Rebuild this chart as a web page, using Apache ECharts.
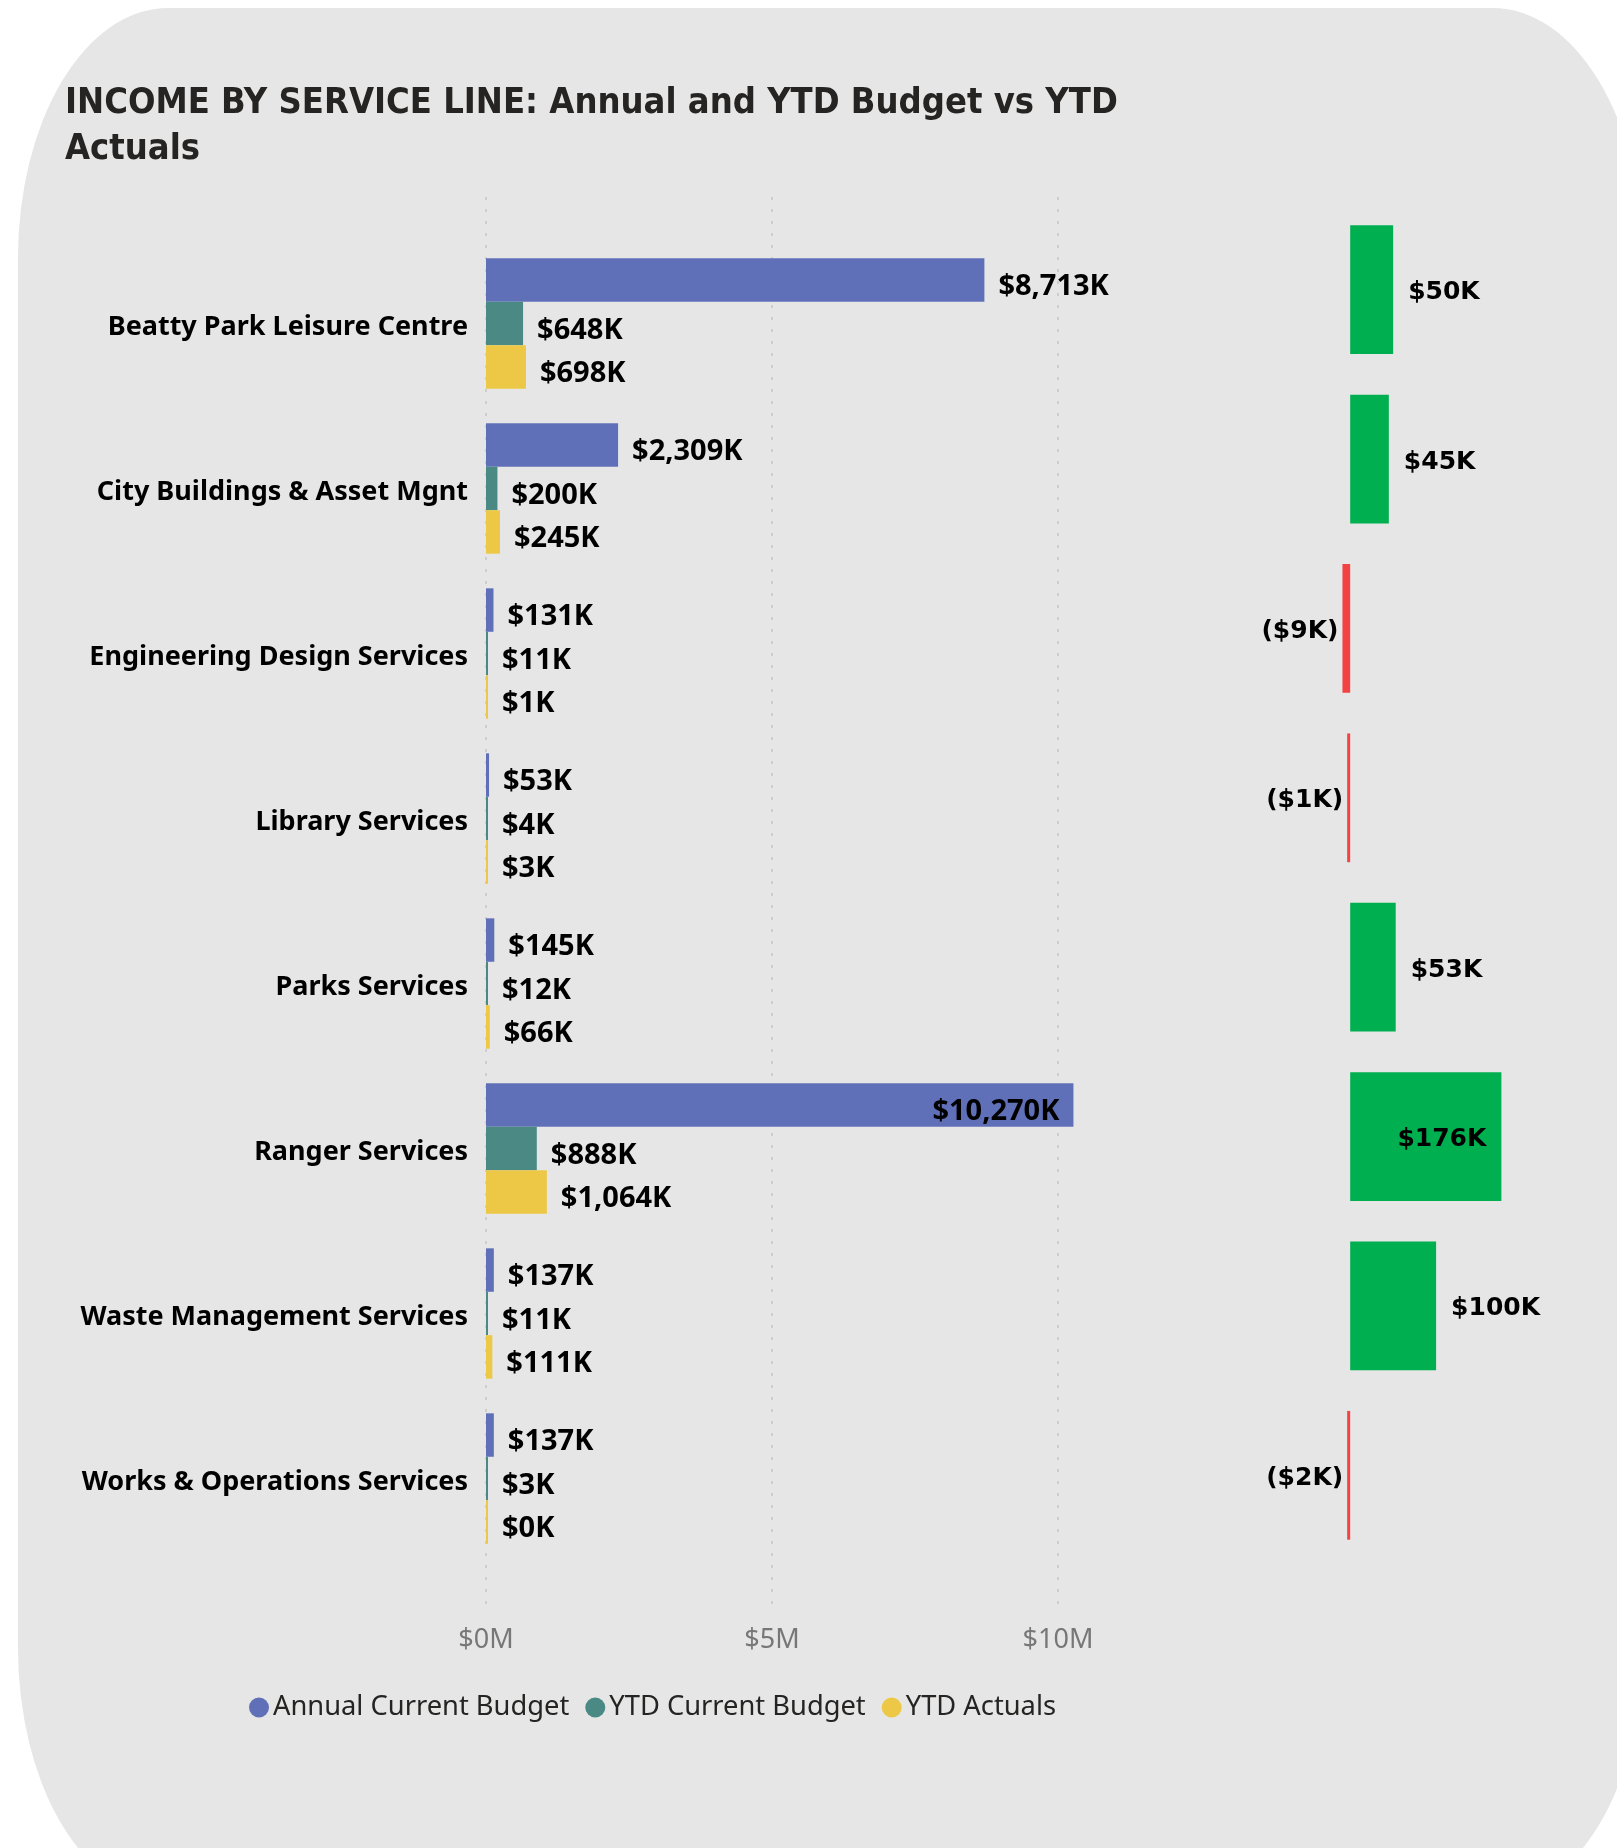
<!DOCTYPE html>
<html>
<head>
<meta charset="utf-8">
<script src="https://cdn.jsdelivr.net/npm/echarts@6/dist/echarts.min.js"></script>
<style>
    html, body { margin: 0; padding: 0; background: #fff; }
    .card {
        position: absolute;
        left: 18px;
        top: 8px;
        width: 1625px;
        height: 1890px;
        background: #e6e6e6;
        border-radius: 150px / 250px;
    }
    #main { position: absolute; left: 0; top: 0; width: 1617px; height: 1848px; }
</style>
</head>
<body>
<div class="card"></div>
<div id="main"></div>
<script>
    // values in $K
    const categories = [
        'Beatty Park Leisure Centre',
        'City Buildings & Asset Mgnt',
        'Engineering Design Services',
        'Library Services',
        'Parks Services',
        'Ranger Services',
        'Waste Management Services',
        'Works & Operations Services'
    ];
    const annualBudget = [8713, 2309, 131, 53, 145, 10270, 137, 137];
    const ytdBudget = [648, 200, 11, 4, 12, 888, 11, 3];
    const ytdActuals = [698, 245, 1, 3, 66, 1064, 111, 0];
    const variance = [50, 45, -9, -1, 53, 176, 100, -2];
    const xTicks = [0, 5000, 10000];

    const mainMax = 10000;
    const varMin = -20, varMax = 200;

    const fmtK = v => '$' + Math.round(v).toLocaleString('en-US') + 'K';
    const fmtVar = v => v < 0 ? '(' + fmtK(-v) + ')' : fmtK(v);

    const labelFont = {
        fontFamily: 'Noto Sans',
        fontWeight: 'bold',
        fontSize: 29,
        color: '#000'
    };

    // labels that would run past the plot go inside the bar
    function mainData(arr) {
        return arr.map(v => v > mainMax ? {
            value: v,
            label: {position: 'insideRight', distance: 14}
        } : v);
    }

    function barSeries(name, arr, color) {
        return {
            name: name,
            type: 'bar',
            xAxisIndex: 0,
            yAxisIndex: 0,
            data: mainData(arr),
            barGap: '0%',
            barCategoryGap: '21%',
            barMinHeight: 2,
            clip: false,
            itemStyle: {color: color},
            label: Object.assign({
                show: true,
                position: 'right',
                distance: 14,
                offset: [0, 7],
                formatter: p => fmtK(p.value)
            }, labelFont),
            emphasis: {disabled: true}
        };
    }

    const chart = echarts.init(document.getElementById('main'));

    const option = {
        backgroundColor: 'transparent',
        animation: false,
        title: {
            text: 'INCOME BY SERVICE LINE: Annual and YTD Budget vs YTD\nActuals',
            left: 60,
            top: 76,
            textStyle: {
                fontFamily: 'DejaVu Sans Condensed',
                fontWeight: 'bold',
                fontSize: 36,
                lineHeight: 46,
                color: '#252423'
            }
        },
        legend: {
            data: ['Annual Current Budget', 'YTD Current Budget', 'YTD Actuals'],
            left: 244,
            top: 1689,
            icon: 'circle',
            itemWidth: 20,
            itemHeight: 20,
            itemGap: 16,
            textStyle: {
                fontFamily: 'Noto Sans',
                fontSize: 27.3,
                color: '#252423',
                padding: [0, 0, 0, -1]
            }
        },
        grid: [
            {left: 486, top: 241, width: 572, height: 1320},
            {left: 486, top: 197, width: 572, height: 1416},
            {left: 1333, top: 205, width: 189, height: 1355}
        ],
        xAxis: [
            {gridIndex: 0, type: 'value', min: 0, max: mainMax, show: false},
            {
                gridIndex: 1, type: 'value', min: 0, max: mainMax, interval: 5000,
                axisLine: {show: false},
                axisTick: {show: false},
                splitLine: {
                    show: true,
                    lineStyle: {color: '#c6c6c6', type: [3, 9], width: 1.5}
                },
                axisLabel: {
                    margin: 14,
                    fontFamily: 'Noto Sans',
                    fontSize: 27,
                    color: '#777777',
                    formatter: v => xTicks.indexOf(v) >= 0 ? '$' + (v / 1000) + 'M' : ''
                }
            },
            {gridIndex: 2, type: 'value', min: varMin, max: varMax, show: false}
        ],
        yAxis: [
            {
                gridIndex: 0, type: 'category', data: categories, inverse: true,
                axisLine: {show: false},
                axisTick: {show: false},
                axisLabel: {
                    margin: 18,
                    formatter: v => '{c|' + v + '}',
                    rich: {
                        c: {
                            padding: [8, 0, 0, 0],
                            fontFamily: 'Noto Sans',
                            fontWeight: 'bold',
                            fontSize: 27,
                            color: '#000'
                        }
                    }
                }
            },
            {gridIndex: 1, type: 'value', show: false, min: 0, max: 1},
            {gridIndex: 2, type: 'category', data: categories, inverse: true, show: false}
        ],
        series: [
            barSeries('Annual Current Budget', annualBudget, '#6070b8'),
            barSeries('YTD Current Budget', ytdBudget, '#4a8984'),
            barSeries('YTD Actuals', ytdActuals, '#ecc846'),
            {
                name: 'Variance',
                type: 'bar',
                xAxisIndex: 2,
                yAxisIndex: 2,
                barCategoryGap: '24%',
                barMinHeight: 3,
                data: variance.map(v => ({
                    value: v,
                    label: {
                        position: v < 0 ? 'left' : (v > 150 ? 'insideRight' : 'right'),
                        distance: v < 0 ? 4 : 15
                    }
                })),
                itemStyle: {color: p => p.value < 0 ? '#f24242' : '#00b050'},
                label: {
                    show: true,
                    offset: [0, 3],
                    formatter: p => fmtVar(p.value),
                    fontFamily: 'DejaVu Sans',
                    fontWeight: 'bold',
                    fontSize: 25,
                    color: '#000'
                },
                emphasis: {disabled: true}
            }
        ]
    };

    chart.setOption(option);
</script>
</body>
</html>
